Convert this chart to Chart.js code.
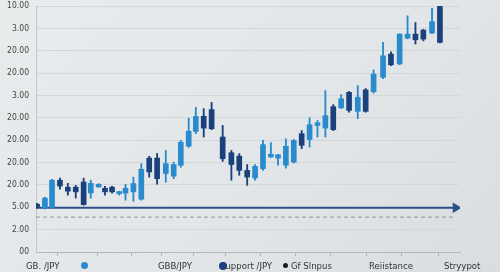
<!DOCTYPE html>
<html>
<head>
<meta charset="utf-8">
<script src="https://cdn.jsdelivr.net/npm/chart.js@4.4.1/dist/chart.umd.min.js"></script>
<style>
  html, body { margin: 0; padding: 0; }
  body {
    width: 500px; height: 272px; overflow: hidden;
    background: linear-gradient(135deg, #e9eced 0%, #e2e6e8 55%, #d9dde0 100%);
    font-family: "Liberation Sans Narrow", "DejaVu Sans Condensed", Arial, sans-serif;
  }
  #wrap { position: relative; width: 500px; height: 272px; }
  #legend span { position: absolute; top: 259px; font-size: 9.5px; line-height: 13px; color: #333; white-space: nowrap; }
  #legend i { position: absolute; border-radius: 50%; }
</style>
</head>
<body>
<div id="wrap">
  <canvas id="chart" width="500" height="272"></canvas>
  <div id="legend"></div>
</div>
<script>
// y tick labels, bottom to top (as printed on the picture)
const yTickLabels = ["00", "2.00", "5.00", "20.00", "20.00", "20.00", "20.00", "3.00", "20.00", "20.00", "3.00", "10.00"];

// session time of each candle (sessions are not evenly spaced)
const sessions = [0, 1.0, 1.9, 2.9, 3.9, 4.9, 5.9, 6.8, 7.8, 8.6, 9.5, 10.4, 11.2, 12.2, 13.2, 14.2, 15.2, 16.3, 17.3, 18.2,
                  19.2, 20.1, 21.1, 22.1, 23.5, 24.6, 25.6, 26.6, 27.6, 28.6, 29.6, 30.5, 31.5, 32.5, 33.5, 34.5, 35.5, 36.5, 37.5, 38.5,
                  39.5, 40.6, 41.6, 42.6, 43.8, 44.8, 45.9, 46.9, 47.9, 48.9, 50.0, 51.0];
const opens  = [2.14, 1.97, 2.00, 3.21, 2.90, 2.90, 3.13, 2.64, 2.91, 2.85, 2.90, 2.61, 2.63, 2.69, 2.36, 4.20, 4.20, 3.51, 3.39, 3.88,
                4.73, 5.39, 6.07, 6.37, 5.14, 4.44, 4.29, 3.65, 3.31, 3.73, 4.25, 4.20, 3.88, 4.02, 5.29, 5.03, 5.66, 5.54, 6.50, 6.45,
                7.14, 6.29, 7.25, 7.17, 7.81, 8.85, 8.41, 9.56, 9.74, 9.92, 9.79, 10.98];
const closes = [2.00, 2.41, 3.21, 2.95, 2.72, 2.69, 2.12, 3.07, 3.03, 2.69, 2.69, 2.67, 2.85, 3.06, 3.70, 3.58, 3.28, 3.95, 3.91, 4.91,
                5.40, 6.06, 5.54, 5.51, 4.17, 3.91, 3.65, 3.35, 3.83, 4.80, 4.37, 4.35, 4.73, 4.99, 4.77, 5.69, 5.78, 6.10, 5.47, 6.85,
                6.33, 6.92, 6.29, 7.96, 8.77, 8.37, 9.74, 9.74, 9.49, 9.52, 10.30, 9.37];
const highs  = [2.18, 2.45, 3.25, 3.30, 3.07, 2.98, 3.30, 3.21, 3.05, 2.94, 2.94, 2.72, 3.03, 3.35, 3.95, 4.28, 4.41, 4.54, 4.02, 4.99,
                5.98, 6.47, 6.41, 6.69, 5.66, 4.54, 4.40, 3.91, 3.91, 4.99, 4.89, 4.37, 5.06, 5.03, 5.43, 6.00, 5.88, 7.22, 6.59, 7.04,
                7.18, 7.44, 7.31, 8.14, 9.37, 8.95, 9.76, 10.56, 10.26, 9.96, 10.90, 11.00];
const lows   = [1.96, 1.92, 1.96, 2.81, 2.54, 2.41, 2.09, 2.41, 2.89, 2.54, 2.63, 2.54, 2.32, 2.27, 2.32, 3.35, 3.03, 3.12, 3.28, 3.79,
                4.68, 5.29, 5.14, 5.47, 4.05, 3.21, 3.43, 2.98, 3.21, 3.65, 4.23, 3.88, 3.75, 3.98, 4.62, 4.69, 5.14, 5.14, 5.43, 6.41,
                6.25, 5.96, 6.25, 7.10, 7.75, 8.33, 8.37, 9.53, 9.30, 9.44, 9.76, 9.35];

const supportLevel = 1.98;
const dashedLevel = 1.56;
const xStart = -0.13;
const xEnd = 53.0;
const xTickValues = [5.1, 10.1, 13.9, 17.7, 21.9, 25.7, 30.8, 34.6, 39.6, 43.8, 48.5, 53.2];

const legendLabels = ["GB. /JPY", "GBB/JPY", "Support /JPY", "Gf Slnpus", "Reiistance", "Stryypot"];

const UP = "#2a8bcc";
const DOWN = "#1b417c";
const FONT = "'Liberation Sans Narrow', 'DejaVu Sans Condensed', Arial, sans-serif";

const bodies = opens.map((o, i) => ({ x: sessions[i], y: [o, closes[i]] }));
const wicks = highs.map((h, i) => ({ x: sessions[i], y: [lows[i], h] }));
const candleColors = opens.map((o, i) => closes[i] >= o ? UP : DOWN);

new Chart(document.getElementById("chart"), {
  type: "bar",
  data: {
    datasets: [
      {
        type: "line",
        data: [{ x: xStart, y: supportLevel }, { x: xEnd, y: supportLevel }],
        borderColor: "#2d4f86",
        backgroundColor: "#2d4f86",
        borderWidth: 2,
        pointRadius: [0, 4],
        pointStyle: "triangle",
        rotation: 90,
        order: 3
      },
      {
        type: "line",
        data: [{ x: xStart, y: dashedLevel }, { x: xEnd, y: dashedLevel }],
        borderColor: "#8d939b",
        borderWidth: 1,
        borderDash: [4, 3],
        pointRadius: 0,
        order: 4
      },
      {
        data: wicks,
        backgroundColor: candleColors,
        barThickness: 1.2,
        grouped: false,
        order: 2
      },
      {
        data: bodies,
        backgroundColor: candleColors,
        barThickness: 5,
        minBarLength: 2,
        grouped: false,
        order: 1
      }
    ]
  },
  options: {
    responsive: false,
    animation: false,
    layout: { padding: { top: 5, right: 40, left: 0, bottom: 0 } },
    plugins: { legend: { display: false }, tooltip: { enabled: false } },
    scales: {
      x: {
        type: "linear",
        offset: false,
        min: xStart,
        max: 53.54,
        afterBuildTicks: (scale) => { scale.ticks = xTickValues.map(v => ({ value: v })); },
        afterFit: (scale) => { scale.height = 20; scale.paddingLeft = 0; scale.paddingRight = 0; },
        ticks: { display: false },
        grid: { drawOnChartArea: false, drawTicks: true, tickLength: 4, color: "#b3b7bb" },
        border: { color: "#b3b7bb" }
      },
      y: {
        min: 0,
        max: 11,
        afterFit: (scale) => { scale.width = 36; scale.paddingTop = 0; scale.paddingBottom = 0; },
        ticks: {
          stepSize: 1,
          padding: 7,
          color: "#444",
          font: { family: FONT, size: 8.5 },
          callback: (v) => yTickLabels[Math.round(v)]
        },
        grid: { color: "#d3d7da", drawTicks: false },
        border: { color: "#c3c7ca" }
      }
    }
  }
});

// legend row under the axis
const legendItems = [
  { text: 0, left: 26 },
  { dot: UP, left: 81, size: 7 },
  { text: 1, left: 158 },
  { text: 2, left: 220 },
  { dot: DOWN, left: 219, size: 8 },
  { dot: "#1a1a1a", left: 283, size: 5 },
  { text: 3, left: 291 },
  { text: 4, left: 369 },
  { text: 5, left: 444 }
];
const legendEl = document.getElementById("legend");
legendItems.forEach(item => {
  if (item.dot) {
    const d = document.createElement("i");
    d.style.left = item.left + "px";
    d.style.top = (265.5 - item.size / 2) + "px";
    d.style.width = item.size + "px";
    d.style.height = item.size + "px";
    d.style.background = item.dot;
    legendEl.appendChild(d);
  } else {
    const s = document.createElement("span");
    s.style.left = item.left + "px";
    s.textContent = legendLabels[item.text];
    legendEl.appendChild(s);
  }
});
</script>
</body>
</html>
